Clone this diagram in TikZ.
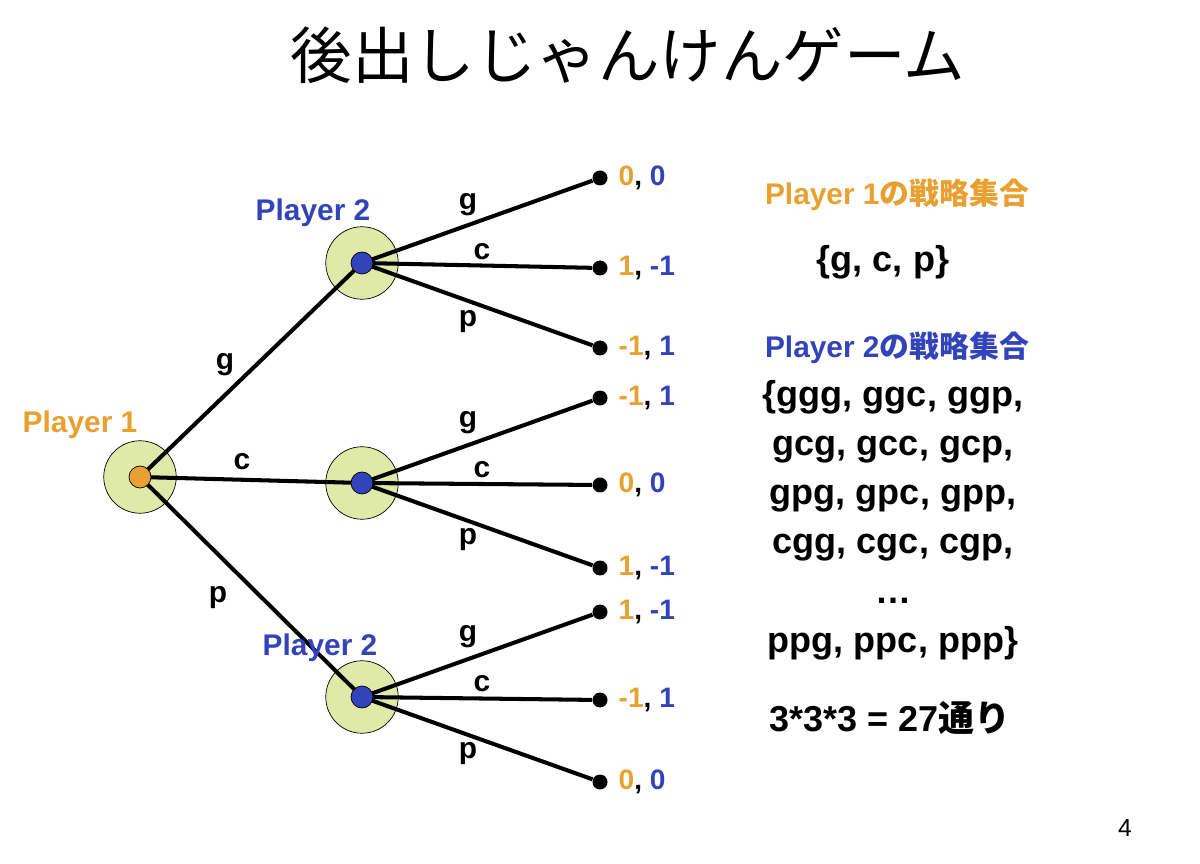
\documentclass[tikz,border=0pt]{standalone}
\usepackage{fontspec}
\setmainfont{Liberation Sans}
\newfontfamily\cjk{Noto Sans CJK JP}
\usetikzlibrary{positioning}
\definecolor{pone}{RGB}{232,160,48}
\definecolor{ptwo}{RGB}{51,68,187}
\definecolor{halo}{RGB}{223,234,168}
\tikzstyle{decision} = [circle, draw=black, fill=halo, minimum size=1.45cm, inner sep=0pt]
\tikzstyle{leaf} = [circle, fill=black, minimum size=0.3cm, inner sep=0pt]
\tikzstyle{branch} = [line width=2.3pt]
\tikzstyle{move} = [font=\bfseries\fontsize{17}{19}\selectfont]
\tikzstyle{pay} = [right=0.25cm, font=\bfseries\fontsize{16}{18}\selectfont]
\tikzstyle{side} = [font=\bfseries\fontsize{20.5}{28}\selectfont, align=center]
\newcommand{\po}[2]{\textcolor{pone}{#1}, \textcolor{ptwo}{#2}}
\begin{document}
\begin{tikzpicture}[x=0.02cm, y=-0.02cm]
\useasboundingbox (0,0) rectangle (1200,864);
\node at (628,55) {\cjk\fontsize{35}{38}\selectfont 後出しじゃんけんゲーム};

% decision nodes
\node (R) [decision] at (140,477) {};
\node (A) [decision] at (362,263) {};
\node (B) [decision] at (362,483) {};
\node (C) [decision] at (362,697) {};

% leaves
\foreach \n/\y in {a1/178, a2/268, a3/348, b1/398, b2/485, b3/568, c1/612, c2/700, c3/782}
  \node (\n) [leaf] at (600,\y) {};

\draw [branch] (R.center) -- (A.center);
\draw [branch] (R.center) -- (B.center);
\draw [branch] (R.center) -- (C.center);
\foreach \p/\q in {A/a, B/b, C/c}
  \foreach \i in {1,2,3}
    \draw [branch] (\p.center) -- (\q\i);

\foreach \p in {A,B,C}
  \node [circle, fill=ptwo, draw=black, minimum size=0.44cm, inner sep=0pt] at (\p) {};
\node [circle, fill=pone, draw=black, minimum size=0.44cm, inner sep=0pt] at (R) {};

% players
\node [move, text=pone] at (80,425) {Player 1};
\node [move, text=ptwo] at (313,213) {Player 2};
\node [move, text=ptwo] at (320,648) {Player 2};

% moves
\node [move] at (225,365) {g};
\node [move] at (242,462) {c};
\node [move] at (218,598) {p};
\foreach \y in {0,218,432} {
  \node [move] at (468,205+\y) {g};
  \node [move] at (482,252+\y) {c};
  \node [move] at (468,322+\y) {p};
}

% payoffs
\node [pay] at (a1) {\po{0}{0}};
\node [pay] at (a2) {\po{1}{-1}};
\node [pay] at (a3) {\po{-1}{1}};
\node [pay] at (b1) {\po{-1}{1}};
\node [pay] at (b2) {\po{0}{0}};
\node [pay] at (b3) {\po{1}{-1}};
\node [pay] at (c1) {\po{1}{-1}};
\node [pay] at (c2) {\po{-1}{1}};
\node [pay] at (c3) {\po{0}{0}};

% strategy sets
\node [move, text=pone] at (897,195) {Player 1{\cjk の戦略集合}};
\node [side] at (883,262) {\{g, c, p\}};
\node [move, text=ptwo] at (897,348) {Player 2{\cjk の戦略集合}};
\node [side, anchor=north] at (893,374) {\{ggg, ggc, ggp,\\gcg, gcc, gcp,\\gpg, gpc, gpp,\\cgg, cgc, cgp,\\\textbf{\dots}\\ppg, ppc, ppp\}};
\node [side] at (890,718) {3*3*3 = 27{\cjk 通り}};
\node [font=\fontsize{14}{16}\selectfont] at (1125,828) {4};
\end{tikzpicture}
\end{document}
